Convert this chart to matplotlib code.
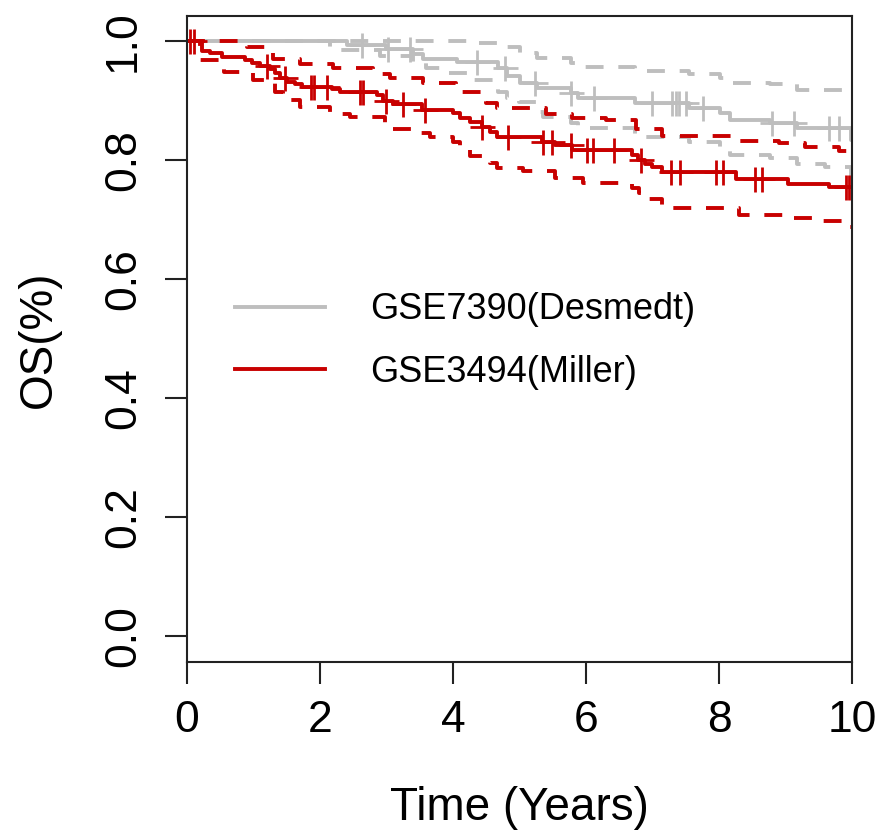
import matplotlib.pyplot as plt
from matplotlib.lines import Line2D
import numpy as np

plt.rcParams['font.family'] = ['Liberation Sans', 'DejaVu Sans']

gray = '#BEBEBE'
red = '#C80000'

labels = ['GSE7390(Desmedt)', 'GSE3494(Miller)']

# GSE3494 (Miller) - survival estimate and 95% CI, step starts
red_time = [0, 0.23, 0.35, 0.53, 0.87, 0.98, 1.1, 1.25, 1.32, 1.4, 1.5, 1.62, 1.73, 2.18, 2.3,
            2.86, 2.95, 3.1, 3.53, 4.0, 4.1, 4.26, 4.44, 4.56, 4.66, 5.34, 5.53, 5.79, 6.69,
            6.78, 6.89, 6.99, 7.14, 8.26, 9.04, 9.65]
red_surv = [1.0, 0.984, 0.98, 0.973, 0.968, 0.963, 0.958, 0.953, 0.946, 0.938, 0.931, 0.928, 0.923,
            0.919, 0.914, 0.909, 0.899, 0.894, 0.884, 0.879, 0.871, 0.864, 0.855, 0.847, 0.839,
            0.830, 0.825, 0.816, 0.808, 0.800, 0.794, 0.789, 0.779, 0.768, 0.759, 0.754]
red_lo_time = [0, 0.2, 0.55, 1.0, 1.33, 1.45, 1.7, 2.15, 2.45, 2.98, 3.5, 3.65, 4.0, 4.1, 4.26,
               4.56, 4.66, 5.05, 5.53, 5.95, 6.69, 6.8, 6.9, 7.14, 8.3, 9.04, 9.4, 9.9]
red_lo = [1.0, 0.968, 0.948, 0.934, 0.915, 0.9, 0.889, 0.877, 0.872, 0.852, 0.845, 0.838, 0.83,
          0.818, 0.806, 0.795, 0.787, 0.781, 0.77, 0.761, 0.753, 0.745, 0.735, 0.72, 0.707,
          0.703, 0.697, 0.688]
red_hi_time = [0, 0.9, 1.3, 1.7, 2.2, 2.8, 3.05, 3.55, 4.05, 4.5, 4.66, 5.4, 5.79, 6.3, 6.75,
               7.14, 8.26, 8.9, 9.3, 9.8]
red_hi = [1.0, 0.99, 0.97, 0.961, 0.955, 0.945, 0.938, 0.929, 0.914, 0.895, 0.887, 0.878, 0.871,
          0.868, 0.852, 0.84, 0.832, 0.829, 0.822, 0.815]
red_cens = [0.05, 0.1, 1.2, 1.47, 1.87, 1.91, 2.1, 2.6, 2.65, 3.0, 3.25, 3.58, 4.44, 4.83, 5.35,
            5.49, 5.77, 6.02, 6.1, 6.42, 6.82, 7.28, 7.42, 7.95, 8.06, 8.54, 8.65, 9.91, 9.96, 10.0]

# GSE7390 (Desmedt)
gray_time = [0, 2.4, 3.0, 3.4, 3.55, 4.06, 4.68, 4.81, 5.01, 5.26, 5.77, 5.88, 6.74, 7.55, 8.01,
             8.16, 8.77, 9.17, 9.98]
gray_surv = [1.0, 0.993, 0.986, 0.978, 0.97, 0.965, 0.955, 0.941, 0.93, 0.921, 0.913, 0.905,
             0.896, 0.888, 0.879, 0.868, 0.862, 0.854, 0.834]
gray_lo_time = [0, 2.15, 2.9, 3.4, 3.6, 3.8, 4.3, 4.68, 4.81, 5.0, 5.26, 5.35, 5.77, 5.88, 6.74,
                7.55, 8.01, 8.16, 8.77, 9.17, 9.6, 9.98]
gray_lo = [1.0, 0.985, 0.975, 0.965, 0.955, 0.947, 0.934, 0.915, 0.905, 0.897, 0.88, 0.872,
           0.862, 0.854, 0.839, 0.831, 0.82, 0.808, 0.804, 0.793, 0.788, 0.77]
gray_hi_time = [0, 4.3, 4.81, 5.01, 5.26, 5.77, 5.88, 6.74, 7.55, 8.01, 8.16, 8.77, 9.17]
gray_hi = [1.0, 0.997, 0.99, 0.98, 0.972, 0.963, 0.956, 0.949, 0.945, 0.937, 0.93, 0.928, 0.918]
gray_cens = [2.63, 3.02, 3.35, 4.36, 4.78, 5.23, 5.77, 6.12, 7.0, 7.29, 7.35, 7.4, 7.5, 7.76,
             8.8, 9.13, 9.65, 9.8]

t_end = 10


def step_xy(t, s):
    return list(t) + [t_end], list(s) + [s[-1]]


def value_at(t, s, x):
    idx = np.searchsorted(t, x, side='right') - 1
    return np.array(s)[idx]


fig = plt.figure(figsize=(8.78, 8.38), dpi=100)
ax = fig.add_axes([187 / 878, 1 - 662 / 838, 665 / 878, 646 / 838])

lw = 2.8
dash = (0, (4.6, 3.8))
curves = [
    (gray, gray_time, gray_surv, gray_lo_time, gray_lo, gray_hi_time, gray_hi, gray_cens),
    (red, red_time, red_surv, red_lo_time, red_lo, red_hi_time, red_hi, red_cens),
]
for col, t, s, tl, lo, th, hi, cens in curves:
    x, y = step_xy(tl, lo)
    ax.step(x, y, where='post', color=col, lw=lw, linestyle=dash)
    x, y = step_xy(th, hi)
    ax.step(x, y, where='post', color=col, lw=lw, linestyle=dash)
    x, y = step_xy(t, s)
    ax.step(x, y, where='post', color=col, lw=lw)
    ax.plot(cens, value_at(t, s, cens), linestyle='none', marker='+', markersize=18,
            mew=2, color=col)

ax.set_xlim(0, 10)
ax.set_ylim(-0.0437, 1.042)
ax.set_xticks(np.arange(0, 11, 2))
ax.set_yticks(np.arange(0, 1.01, 0.2))
ax.set_yticklabels(['%.1f' % v for v in np.arange(0, 1.01, 0.2)], rotation=90, va='center')
ax.tick_params(axis='both', labelsize=32, length=16, width=1.5, color='#222222')
ax.tick_params(axis='x', pad=11)
ax.tick_params(axis='y', pad=15)
for sp in ax.spines.values():
    sp.set_linewidth(1.5)
    sp.set_color('#222222')

ax.set_xlabel('Time (Years)', fontsize=33, labelpad=33)
ax.set_ylabel('OS(%)', fontsize=33, labelpad=30)

handles = [Line2D([], [], color=gray, lw=lw), Line2D([], [], color=red, lw=lw)]
ax.legend(handles, labels, loc='upper left', bbox_to_anchor=(0.072, 0.572), frameon=False,
          fontsize=26, handlelength=2.5, handletextpad=1.25, labelspacing=0.75,
          borderpad=0, borderaxespad=0)

plt.savefig('out.png', dpi=100)
